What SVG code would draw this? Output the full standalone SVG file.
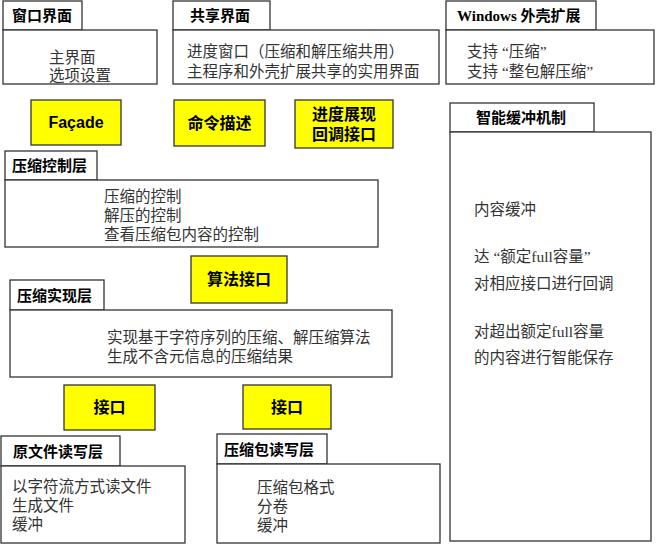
<svg xmlns="http://www.w3.org/2000/svg" width="657" height="545" viewBox="0 0 657 545">
<style>
.b{fill:#fff;stroke:#333;stroke-width:1.3}
.y{fill:#ffff00;stroke:#333;stroke-width:1.3}
.t{font-family:"Liberation Serif","Noto Sans CJK SC",serif;font-size:15.5px;fill:#333}
.h{font-family:"Liberation Serif","Noto Sans CJK SC",serif;font-size:15px;font-weight:bold;fill:#000}
.k{font-family:"Liberation Sans","Noto Sans CJK SC",sans-serif;font-size:16px;font-weight:bold;fill:#000;text-anchor:middle}
</style>
<rect width="657" height="545" fill="#fff"/>
<g id="window-ui">
<rect class="b" x="3" y="1" width="79" height="29"/>
<rect class="b" x="3" y="30" width="154" height="54"/>
<text class="h" x="12" y="21">窗口界面</text>
<text class="t" x="49" y="63">主界面</text>
<text class="t" x="49" y="81">选项设置</text>
</g>
<g id="shared-ui">
<rect class="b" x="173" y="1" width="97" height="29"/>
<rect class="b" x="173" y="30" width="266" height="54"/>
<text class="h" x="190" y="21">共享界面</text>
<text class="t" x="187" y="57">进度窗口（压缩和解压缩共用）</text>
<text class="t" x="187" y="77">主程序和外壳扩展共享的实用界面</text>
</g>
<g id="shell-ext">
<rect class="b" x="446" y="1" width="150" height="29"/>
<rect class="b" x="446" y="30" width="208" height="54"/>
<text class="h" x="457" y="21">Windows 外壳扩展</text>
<text class="t" x="467" y="57">支持 “压缩”</text>
<text class="t" x="467" y="77">支持 “整包解压缩”</text>
</g>
<g id="facade">
<rect class="y" x="31" y="100" width="90" height="45"/>
<text class="k" x="76" y="128">Façade</text>
</g>
<g id="cmd-desc">
<rect class="y" x="174" y="100" width="91" height="46"/>
<text class="k" x="219.5" y="129">命令描述</text>
</g>
<g id="progress-cb">
<rect class="y" x="295" y="100" width="98" height="48"/>
<text class="k" x="344" y="120">进度展现</text>
<text class="k" x="344" y="140">回调接口</text>
</g>
<g id="smart-buffer">
<rect class="b" x="450" y="103" width="144" height="29"/>
<rect class="b" x="450" y="132" width="201" height="409"/>
<text class="h" x="476" y="123">智能缓冲机制</text>
<text class="t" x="474" y="215">内容缓冲</text>
<text class="t" x="474" y="262">达 “额定full容量”</text>
<text class="t" x="474" y="289">对相应接口进行回调</text>
<text class="t" x="474" y="337">对超出额定full容量</text>
<text class="t" x="474" y="363">的内容进行智能保存</text>
</g>
<g id="control-layer">
<rect class="b" x="5" y="151" width="92" height="29"/>
<rect class="b" x="5" y="180" width="373" height="67"/>
<text class="h" x="12" y="171">压缩控制层</text>
<text class="t" x="104" y="202">压缩的控制</text>
<text class="t" x="104" y="221">解压的控制</text>
<text class="t" x="104" y="240">查看压缩包内容的控制</text>
</g>
<g id="algo-if">
<rect class="y" x="191" y="256" width="96" height="47"/>
<text class="k" x="239" y="285">算法接口</text>
</g>
<g id="impl-layer">
<rect class="b" x="10" y="280" width="94" height="30"/>
<rect class="b" x="10" y="310" width="382" height="67"/>
<text class="h" x="17" y="301">压缩实现层</text>
<text class="t" x="107" y="343">实现基于字符序列的压缩、解压缩算法</text>
<text class="t" x="107" y="362">生成不含元信息的压缩结果</text>
</g>
<g id="if1">
<rect class="y" x="64" y="385" width="91" height="45"/>
<text class="k" x="109.5" y="413">接口</text>
</g>
<g id="if2">
<rect class="y" x="243" y="385" width="88" height="44"/>
<text class="k" x="287" y="413">接口</text>
</g>
<g id="file-layer">
<rect class="b" x="1" y="436" width="119" height="30"/>
<rect class="b" x="1" y="466" width="184" height="77"/>
<text class="h" x="13" y="457">原文件读写层</text>
<text class="t" x="12" y="492">以字符流方式读文件</text>
<text class="t" x="12" y="511">生成文件</text>
<text class="t" x="12" y="530">缓冲</text>
</g>
<g id="pkg-layer">
<rect class="b" x="217" y="434" width="110" height="30"/>
<rect class="b" x="217" y="464" width="223" height="79"/>
<text class="h" x="224" y="455">压缩包读写层</text>
<text class="t" x="257" y="493">压缩包格式</text>
<text class="t" x="257" y="512">分卷</text>
<text class="t" x="257" y="531">缓冲</text>
</g>
<g id="connectors"></g>
</svg>
